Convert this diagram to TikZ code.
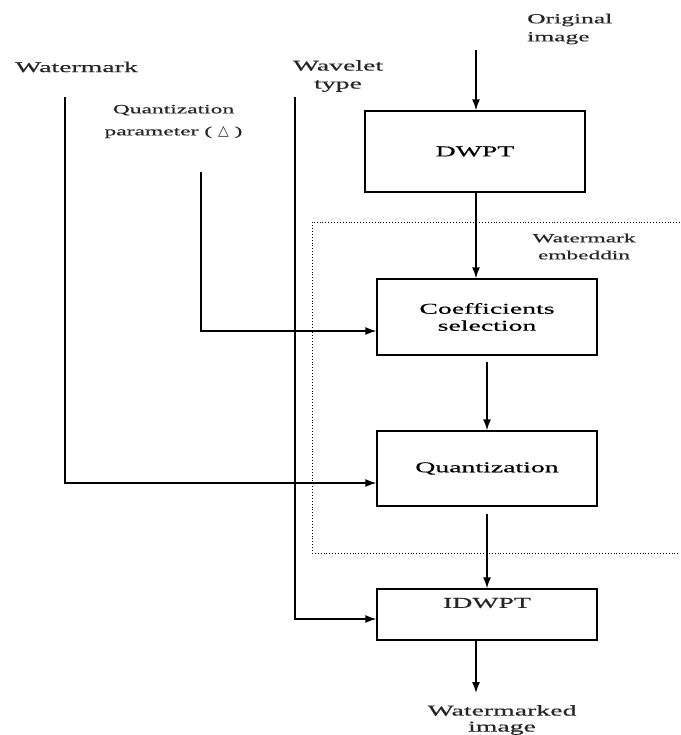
\documentclass[tikz,border=0pt]{standalone}
\usepackage{fontspec}
\setmainfont{Liberation Serif}[FakeStretch=1.85,FakeBold=0.5]
\newfontfamily\deltafont{DejaVu Sans}
\usetikzlibrary{arrows.meta}
\begin{document}
\begin{tikzpicture}[x=1pt,y=-1pt,
  box/.style={draw, line width=1.4pt, minimum width=220pt, inner sep=0pt, font=\fontsize{15}{17}\selectfont, align=center},
  txt/.style={font=\fontsize{15}{17}\selectfont, align=center, inner sep=0pt, text=black!85},
  smalltxt/.style={font=\fontsize{12.7}{22}\selectfont, align=center, inner sep=0pt, text=black!85},
  flow/.style={line width=1.4pt, -{Latex[length=11pt,width=8pt]}},
  wire/.style={line width=1.3pt, -{Latex[length=11pt,width=8pt]}},
  region/.style={line width=0.9pt, dotted}]
\useasboundingbox (0,0) rectangle (680,735);

% boxes
\node[box, minimum height=81pt] (dwpt) at (475,151.5) {DWPT};
\node[box, minimum height=76pt] (coeff) at (487,317) {Coefficients\\selection};
\node[box, minimum height=75pt] (quant) at (487,468.5) {Quantization};
\node[box, minimum height=51pt] (idwpt) at (487,614.5) {};
\node[txt] (idwptt) at (487,603) {IDWPT};

% labels
\node[txt, font=\fontsize{13.8}{18}\selectfont, align=left, anchor=west] (orig) at (527,29) {Original\\image};
\node[txt, anchor=west] (wm) at (15,67) {Watermark};
\node[txt, font=\fontsize{15}{18}\selectfont] (wv) at (338,76) {Wavelet\\type};
\node[smalltxt] (qp) at (173.5,121.5) {Quantization\\parameter ( {\deltafont\fontsize{14}{14}\selectfont △} )};
\node[smalltxt, font=\fontsize{12.6}{17}\selectfont] (emb) at (584,246.5) {Watermark\\embeddin};
\node[txt, font=\fontsize{15}{16}\selectfont] (wimg) at (502,720) {Watermarked\\image};

% coordinates of free ends
\coordinate (origtop) at (476,50);
\coordinate (wmtop) at (65,97);
\coordinate (qptop) at (201,172);
\coordinate (wvtop) at (295,97);
\coordinate (outend) at (476,693);

% embedding region (dotted)
\draw[region] (680,222) -- (312,222) -- (312,553) -- (680,553);

% main flow
\draw[flow] (origtop) -- (origtop |- dwpt.north);
\draw[flow] (origtop |- dwpt.south) -- (origtop |- coeff.north);
\draw[flow, shorten <=6pt] (coeff.south) -- (quant.north);
\draw[flow, shorten <=7pt] (quant.south) -- (idwpt.north);
\draw[flow] (outend |- idwpt.south) -- (outend);

% side inputs
\draw[wire] (qptop) |- ([yshift=-14pt]coeff.west);
\draw[wire] (wmtop) |- ([yshift=-14.5pt]quant.west);
\draw[wire] (wvtop) |- ([yshift=-4.5pt]idwpt.west);
\end{tikzpicture}
\end{document}
